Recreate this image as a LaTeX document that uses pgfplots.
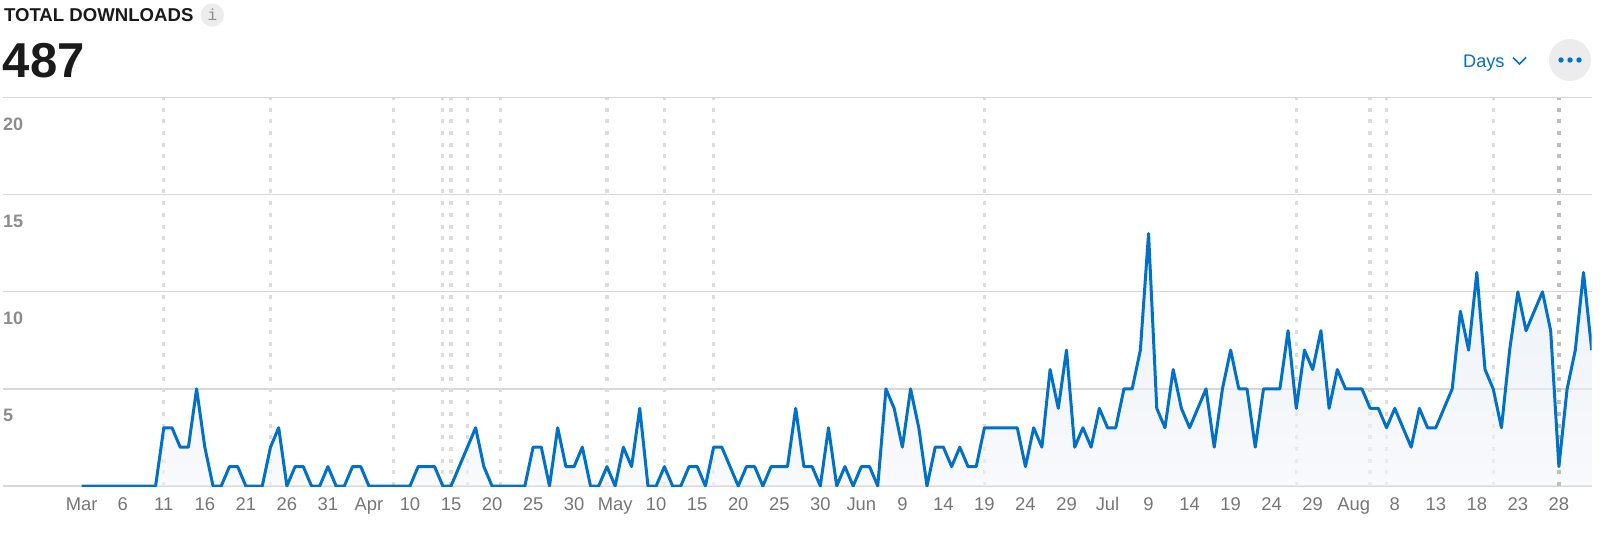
\documentclass[border=0pt]{standalone}
\usepackage{fontspec}
\setmainfont{Liberation Sans}
\setmonofont{Liberation Mono}
\usepackage{pgfplots}
\usepackage{pgfplotstable}
\pgfplotsset{compat=1.18}

\definecolor{lineblue}{RGB}{0,112,201}
\definecolor{gridgray}{RGB}{215,215,215}
\definecolor{dotgray}{RGB}{220,220,220}
\definecolor{darkdot}{RGB}{190,190,190}
\definecolor{ylab}{RGB}{140,140,140}
\definecolor{xlab}{RGB}{118,118,118}
\definecolor{titlecol}{RGB}{26,26,26}
\definecolor{circbg}{RGB}{236,236,236}
\definecolor{filltop}{RGB}{222,230,241}
\definecolor{fillbot}{RGB}{244,246,250}

% daily downloads, day 0 = Mar 1
\pgfplotstableread[row sep=\\]{
day dl\\
0 0\\ 1 0\\ 2 0\\ 3 0\\ 4 0\\ 5 0\\ 6 0\\ 7 0\\ 8 0\\ 9 0\\
10 3\\ 11 3\\ 12 2\\ 13 2\\ 14 5\\ 15 2\\ 16 0\\ 17 0\\ 18 1\\ 19 1\\
20 0\\ 21 0\\ 22 0\\ 23 2\\ 24 3\\ 25 0\\ 26 1\\ 27 1\\ 28 0\\ 29 0\\
30 1\\ 31 0\\ 32 0\\ 33 1\\ 34 1\\ 35 0\\ 36 0\\ 37 0\\ 38 0\\ 39 0\\
40 0\\ 41 1\\ 42 1\\ 43 1\\ 44 0\\ 45 0\\ 46 1\\ 47 2\\ 48 3\\ 49 1\\
50 0\\ 51 0\\ 52 0\\ 53 0\\ 54 0\\ 55 2\\ 56 2\\ 57 0\\ 58 3\\ 59 1\\
60 1\\ 61 2\\ 62 0\\ 63 0\\ 64 1\\ 65 0\\ 66 2\\ 67 1\\ 68 4\\ 69 0\\
70 0\\ 71 1\\ 72 0\\ 73 0\\ 74 1\\ 75 1\\ 76 0\\ 77 2\\ 78 2\\ 79 1\\
80 0\\ 81 1\\ 82 1\\ 83 0\\ 84 1\\ 85 1\\ 86 1\\ 87 4\\ 88 1\\ 89 1\\
90 0\\ 91 3\\ 92 0\\ 93 1\\ 94 0\\ 95 1\\ 96 1\\ 97 0\\ 98 5\\ 99 4\\
100 2\\ 101 5\\ 102 3\\ 103 0\\ 104 2\\ 105 2\\ 106 1\\ 107 2\\ 108 1\\ 109 1\\
110 3\\ 111 3\\ 112 3\\ 113 3\\ 114 3\\ 115 1\\ 116 3\\ 117 2\\ 118 6\\ 119 4\\
120 7\\ 121 2\\ 122 3\\ 123 2\\ 124 4\\ 125 3\\ 126 3\\ 127 5\\ 128 5\\ 129 7\\
130 13\\ 131 4\\ 132 3\\ 133 6\\ 134 4\\ 135 3\\ 136 4\\ 137 5\\ 138 2\\ 139 5\\
140 7\\ 141 5\\ 142 5\\ 143 2\\ 144 5\\ 145 5\\ 146 5\\ 147 8\\ 148 4\\ 149 7\\
150 6\\ 151 8\\ 152 4\\ 153 6\\ 154 5\\ 155 5\\ 156 5\\ 157 4\\ 158 4\\ 159 3\\
160 4\\ 161 3\\ 162 2\\ 163 4\\ 164 3\\ 165 3\\ 166 4\\ 167 5\\ 168 9\\ 169 7\\
170 11\\ 171 6\\ 172 5\\ 173 3\\ 174 7\\ 175 10\\ 176 8\\ 177 9\\ 178 10\\ 179 8\\
180 1\\ 181 5\\ 182 7\\ 183 11\\ 184 7\\
}\downloads

\begin{document}
\begin{tikzpicture}
\useasboundingbox (0,0) rectangle (800pt,270.5pt);

% header
\node[anchor=west, inner sep=0, text=titlecol, font=\fontsize{9.3pt}{11pt}\selectfont\bfseries]
  at (1.8pt,263pt) {TOTAL DOWNLOADS};
\fill[circbg] (106.15pt,263pt) circle (5.85pt);
\node[inner sep=0, text=ylab, font=\fontsize{8pt}{9pt}\selectfont\ttfamily] at (106.15pt,263pt) {i};
\node[anchor=west, inner sep=0, text=titlecol, font=\fontsize{24.5pt}{28pt}\selectfont\bfseries]
  at (1.2pt,240.1pt) {487};
\node[anchor=base west, inner sep=0, text=lineblue, font=\fontsize{9.1pt}{11pt}\selectfont]
  at (731.35pt,236.65pt) {Days};
\draw[lineblue, line width=0.75pt] (756.5pt,241.75pt) -- (759.75pt,238.5pt) -- (763pt,241.75pt);
\fill[circbg] (785pt,240.5pt) circle (10.5pt);
\foreach \dx in {780.5,785,789.5} \fill[lineblue] (\dx pt,240.5pt) circle (1.35pt);

\begin{axis}[
  at={(1.35pt,27.5pt)}, anchor=south west,
  scale only axis,
  width=794.5pt, height=194.15pt,
  xmin=-9.63, xmax=184,
  ymin=0, ymax=20,
  axis line style={draw=none},
  tick style={draw=none},
  major tick length=0pt,
  /pgf/number format/assume math mode=true,
  ytick={0,5,10,15,20},
  yticklabels={,5,10,15,20},
  ymajorgrids,
  major grid style={line width=0.6pt, color=gridgray},
  yticklabel style={anchor=base west, inner sep=0pt, yshift=-16.2pt,
    text=ylab, font=\fontsize{9pt}{11pt}\selectfont\bfseries},
  xtick={0,5,...,180},
  xticklabels={Mar,6,11,16,21,26,31,Apr,10,15,20,25,30,May,10,15,20,25,30,
    Jun,9,14,19,24,29,Jul,9,14,19,24,29,Aug,8,13,18,23,28},
  xticklabel style={anchor=base, inner sep=0pt, yshift=-12.35pt,
    text=xlab, font=\fontsize{9.2pt}{11pt}\selectfont},
  extra x ticks={10,23,38,44,45,47,51,64,71,77,110,148,157,159,172},
  extra x tick labels={},
  extra x tick style={xmajorgrids=true,
    major grid style={line width=1.65pt, color=dotgray, dash pattern=on 2pt off 3.85pt}},
]
\addplot[draw=none, top color=filltop, bottom color=fillbot, fill opacity=0.6]
  table[x=day, y=dl] {\downloads} \closedcycle;
\addplot[darkdot, line width=1.65pt, dash pattern=on 2pt off 3.85pt]
  coordinates {(180,0) (180,20)};
\addplot[lineblue, line width=1.5pt, line join=round, mark=none]
  table[x=day, y=dl] {\downloads};
\end{axis}
\end{tikzpicture}
\end{document}
